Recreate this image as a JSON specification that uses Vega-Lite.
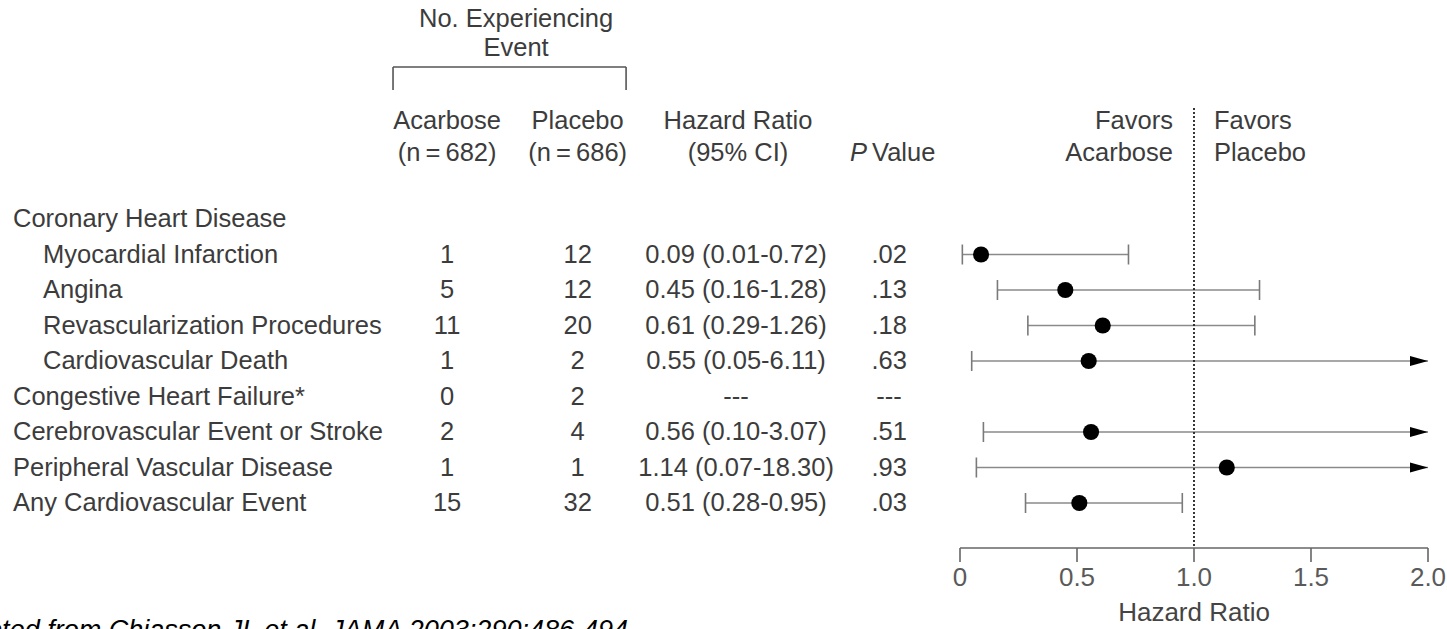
{
  "$schema": "https://vega.github.io/schema/vega-lite/v6.json",
  "width": 1447,
  "height": 629,
  "padding": 0,
  "autosize": {"type": "none"},
  "background": "white",
  "config": {
    "view": {"stroke": null},
    "text": {"font": "Liberation Sans", "fontWeight": 400, "fontSize": 25.5, "fill": "#3c3c3c"}
  },
  "datasets": {
    "outcomes": [
      {"i": 1, "label": "Coronary Heart Disease", "sub": false, "acar": null, "plac": null, "hr": null, "lo": null, "hi": null, "hrText": null, "p": null},
      {"i": 2, "label": "Myocardial Infarction", "sub": true, "acar": 1, "plac": 12, "hr": 0.09, "lo": 0.01, "hi": 0.72, "hrText": "0.09 (0.01-0.72)", "p": ".02"},
      {"i": 3, "label": "Angina", "sub": true, "acar": 5, "plac": 12, "hr": 0.45, "lo": 0.16, "hi": 1.28, "hrText": "0.45 (0.16-1.28)", "p": ".13"},
      {"i": 4, "label": "Revascularization Procedures", "sub": true, "acar": 11, "plac": 20, "hr": 0.61, "lo": 0.29, "hi": 1.26, "hrText": "0.61 (0.29-1.26)", "p": ".18"},
      {"i": 5, "label": "Cardiovascular Death", "sub": true, "acar": 1, "plac": 2, "hr": 0.55, "lo": 0.05, "hi": 6.11, "hrText": "0.55 (0.05-6.11)", "p": ".63"},
      {"i": 6, "label": "Congestive Heart Failure*", "sub": false, "acar": 0, "plac": 2, "hr": null, "lo": null, "hi": null, "hrText": "---", "p": "---"},
      {"i": 7, "label": "Cerebrovascular Event or Stroke", "sub": false, "acar": 2, "plac": 4, "hr": 0.56, "lo": 0.10, "hi": 3.07, "hrText": "0.56 (0.10-3.07)", "p": ".51"},
      {"i": 8, "label": "Peripheral Vascular Disease", "sub": false, "acar": 1, "plac": 1, "hr": 1.14, "lo": 0.07, "hi": 18.30, "hrText": "1.14 (0.07-18.30)", "p": ".93"},
      {"i": 9, "label": "Any Cardiovascular Event", "sub": false, "acar": 15, "plac": 32, "hr": 0.51, "lo": 0.28, "hi": 0.95, "hrText": "0.51 (0.28-0.95)", "p": ".03"}
    ],
    "ticks": [
      {"v": 0, "lab": "0"},
      {"v": 0.5, "lab": "0.5"},
      {"v": 1.0, "lab": "1.0"},
      {"v": 1.5, "lab": "1.5"},
      {"v": 2.0, "lab": "2.0"}
    ]
  },
  "data": {"name": "outcomes"},
  "layer": [
    {
      "transform": [{"filter": "!datum.sub"}],
      "mark": {"type": "text", "align": "left", "baseline": "middle"},
      "encoding": {
        "x": {"datum": -4.047, "type": "quantitative", "scale": {"domain": [-4.1026, 2.0812], "nice": false, "zero": false}, "axis": null},
        "y": {"field": "i", "type": "quantitative", "scale": {"domain": [-5.169, 12.549], "nice": false, "zero": false, "reverse": true}, "axis": null},
        "text": {"field": "label"}
      }
    },
    {
      "transform": [{"filter": "datum.sub"}],
      "mark": {"type": "text", "align": "left", "baseline": "middle"},
      "encoding": {
        "x": {"datum": -3.919, "type": "quantitative"},
        "y": {"field": "i", "type": "quantitative"},
        "text": {"field": "label"}
      }
    },
    {
      "transform": [{"filter": "datum.acar != null"}],
      "mark": {"type": "text", "align": "center", "baseline": "middle"},
      "encoding": {
        "x": {"datum": -2.192, "type": "quantitative"},
        "y": {"field": "i", "type": "quantitative"},
        "text": {"field": "acar"}
      }
    },
    {
      "transform": [{"filter": "datum.plac != null"}],
      "mark": {"type": "text", "align": "center", "baseline": "middle"},
      "encoding": {
        "x": {"datum": -1.634, "type": "quantitative"},
        "y": {"field": "i", "type": "quantitative"},
        "text": {"field": "plac"}
      }
    },
    {
      "transform": [{"filter": "datum.hrText != null"}],
      "mark": {"type": "text", "align": "center", "baseline": "middle"},
      "encoding": {
        "x": {"datum": -0.957, "type": "quantitative"},
        "y": {"field": "i", "type": "quantitative"},
        "text": {"field": "hrText"}
      }
    },
    {
      "transform": [{"filter": "datum.p != null"}],
      "mark": {"type": "text", "align": "center", "baseline": "middle"},
      "encoding": {
        "x": {"datum": -0.303, "type": "quantitative"},
        "y": {"field": "i", "type": "quantitative"},
        "text": {"field": "p"}
      }
    },
    {
      "transform": [{"filter": "datum.hr != null && datum.hi <= 2"}],
      "mark": {"type": "rule", "color": "#8a8a8a", "strokeWidth": 1.6},
      "encoding": {
        "x": {"field": "lo", "type": "quantitative"},
        "x2": {"field": "hi"},
        "y": {"field": "i", "type": "quantitative"}
      }
    },
    {
      "transform": [{"filter": "datum.hr != null && datum.hi > 2"}],
      "mark": {"type": "rule", "color": "#8a8a8a", "strokeWidth": 1.6},
      "encoding": {
        "x": {"field": "lo", "type": "quantitative"},
        "x2": {"datum": 2},
        "y": {"field": "i", "type": "quantitative"}
      }
    },
    {
      "transform": [{"filter": "datum.hr != null"}],
      "mark": {"type": "point", "shape": "M0,-1L0,1", "size": 400, "filled": false, "stroke": "#7a7a7a", "strokeWidth": 1.6, "opacity": 1},
      "encoding": {
        "x": {"field": "lo", "type": "quantitative"},
        "y": {"field": "i", "type": "quantitative"}
      }
    },
    {
      "transform": [{"filter": "datum.hr != null && datum.hi <= 2"}],
      "mark": {"type": "point", "shape": "M0,-1L0,1", "size": 400, "filled": false, "stroke": "#7a7a7a", "strokeWidth": 1.6, "opacity": 1},
      "encoding": {
        "x": {"field": "hi", "type": "quantitative"},
        "y": {"field": "i", "type": "quantitative"}
      }
    },
    {
      "transform": [{"filter": "datum.hr != null && datum.hi > 2"}],
      "mark": {"type": "point", "shape": "M-3.6,-1L0,0L-3.6,1Z", "size": 100, "filled": true, "color": "#000000", "opacity": 1},
      "encoding": {
        "x": {"datum": 2, "type": "quantitative"},
        "y": {"field": "i", "type": "quantitative"}
      }
    },
    {
      "transform": [{"filter": "datum.hr != null"}],
      "mark": {"type": "point", "shape": "circle", "size": 260, "filled": true, "color": "#000000", "opacity": 1},
      "encoding": {
        "x": {"field": "hr", "type": "quantitative"},
        "y": {"field": "i", "type": "quantitative"}
      }
    },
    {
      "data": {"values": [{"ref": 1}]},
      "mark": {"type": "rule", "color": "#222222", "strokeWidth": 1.8, "strokeDash": [2, 2]},
      "encoding": {
        "x": {"field": "ref", "type": "quantitative"},
        "y": {"datum": -2.127, "type": "quantitative"},
        "y2": {"datum": 10.268}
      }
    },
    {
      "data": {"name": "ticks"},
      "transform": [{"aggregate": [{"op": "min", "field": "v", "as": "vmin"}, {"op": "max", "field": "v", "as": "vmax"}]}],
      "mark": {"type": "rule", "color": "#666666", "strokeWidth": 1.6},
      "encoding": {
        "x": {"field": "vmin", "type": "quantitative"},
        "x2": {"field": "vmax"},
        "y": {"datum": 10.268, "type": "quantitative"}
      }
    },
    {
      "data": {"name": "ticks"},
      "mark": {"type": "rule", "color": "#666666", "strokeWidth": 1.6},
      "encoding": {
        "x": {"field": "v", "type": "quantitative"},
        "y": {"datum": 10.268, "type": "quantitative"},
        "y2": {"datum": 10.662}
      }
    },
    {
      "data": {"name": "ticks"},
      "mark": {"type": "text", "align": "center", "baseline": "middle", "fill": "#5a5a5a", "fontSize": 26},
      "encoding": {
        "x": {"field": "v", "type": "quantitative"},
        "y": {"datum": 11.12, "type": "quantitative"},
        "text": {"field": "lab"}
      }
    },
    {
      "data": {"values": [{"t": "Hazard Ratio"}]},
      "mark": {"type": "text", "align": "center", "baseline": "middle", "fill": "#444444", "fontSize": 26},
      "encoding": {
        "x": {"datum": 1, "type": "quantitative"},
        "y": {"datum": 12.1, "type": "quantitative"},
        "text": {"field": "t"}
      }
    },
    {
      "data": {"values": [{"t": ["No. Experiencing", "Event"]}]},
      "mark": {"type": "text", "align": "center", "baseline": "middle", "lineHeight": 29},
      "encoding": {
        "x": {"datum": -1.897, "type": "quantitative"},
        "y": {"datum": -4.634, "type": "quantitative"},
        "text": {"field": "t"}
      }
    },
    {
      "data": {"values": [{"x": -2.423, "x2": -1.427}]},
      "mark": {"type": "rule", "color": "#555555", "strokeWidth": 1.6},
      "encoding": {
        "x": {"field": "x", "type": "quantitative"},
        "x2": {"field": "x2"},
        "y": {"datum": -3.282, "type": "quantitative"}
      }
    },
    {
      "data": {"values": [{"x": -2.423}, {"x": -1.427}]},
      "mark": {"type": "rule", "color": "#555555", "strokeWidth": 1.6},
      "encoding": {
        "x": {"field": "x", "type": "quantitative"},
        "y": {"datum": -3.282, "type": "quantitative"},
        "y2": {"datum": -2.634}
      }
    },
    {
      "data": {"values": [{"t": ["Acarbose", "(n\u2009=\u2009682)"]}]},
      "mark": {"type": "text", "align": "center", "baseline": "middle", "lineHeight": 32},
      "encoding": {
        "x": {"datum": -2.192, "type": "quantitative"},
        "y": {"datum": -1.761, "type": "quantitative"},
        "text": {"field": "t"}
      }
    },
    {
      "data": {"values": [{"t": ["Placebo", "(n\u2009=\u2009686)"]}]},
      "mark": {"type": "text", "align": "center", "baseline": "middle", "lineHeight": 32},
      "encoding": {
        "x": {"datum": -1.634, "type": "quantitative"},
        "y": {"datum": -1.761, "type": "quantitative"},
        "text": {"field": "t"}
      }
    },
    {
      "data": {"values": [{"t": ["Hazard Ratio", "(95% CI)"]}]},
      "mark": {"type": "text", "align": "center", "baseline": "middle", "lineHeight": 32},
      "encoding": {
        "x": {"datum": -0.949, "type": "quantitative"},
        "y": {"datum": -1.761, "type": "quantitative"},
        "text": {"field": "t"}
      }
    },
    {
      "data": {"values": [{"t": "P"}]},
      "mark": {"type": "text", "align": "right", "baseline": "middle", "fontStyle": "italic"},
      "encoding": {
        "x": {"datum": -0.397, "type": "quantitative"},
        "y": {"datum": -0.859, "type": "quantitative"},
        "text": {"field": "t"}
      }
    },
    {
      "data": {"values": [{"t": "Value"}]},
      "mark": {"type": "text", "align": "left", "baseline": "middle"},
      "encoding": {
        "x": {"datum": -0.376, "type": "quantitative"},
        "y": {"datum": -0.859, "type": "quantitative"},
        "text": {"field": "t"}
      }
    },
    {
      "data": {"values": [{"t": ["Favors", "Acarbose"]}]},
      "mark": {"type": "text", "align": "right", "baseline": "middle", "lineHeight": 32},
      "encoding": {
        "x": {"datum": 0.91, "type": "quantitative"},
        "y": {"datum": -1.761, "type": "quantitative"},
        "text": {"field": "t"}
      }
    },
    {
      "data": {"values": [{"t": ["Favors", "Placebo"]}]},
      "mark": {"type": "text", "align": "left", "baseline": "middle", "lineHeight": 32},
      "encoding": {
        "x": {"datum": 1.085, "type": "quantitative"},
        "y": {"datum": -1.761, "type": "quantitative"},
        "text": {"field": "t"}
      }
    },
    {
      "data": {"values": [{"t": "Adapted from Chiasson JL et al. JAMA 2003;290:486-494"}]},
      "mark": {"type": "text", "align": "left", "baseline": "alphabetic", "font": "Liberation Sans", "fontStyle": "italic", "fontWeight": 400, "fontSize": 27, "fill": "#000000", "clip": true},
      "encoding": {
        "x": {"datum": -4.363, "type": "quantitative"},
        "y": {"datum": 12.83, "type": "quantitative"},
        "text": {"field": "t"}
      }
    }
  ]
}
